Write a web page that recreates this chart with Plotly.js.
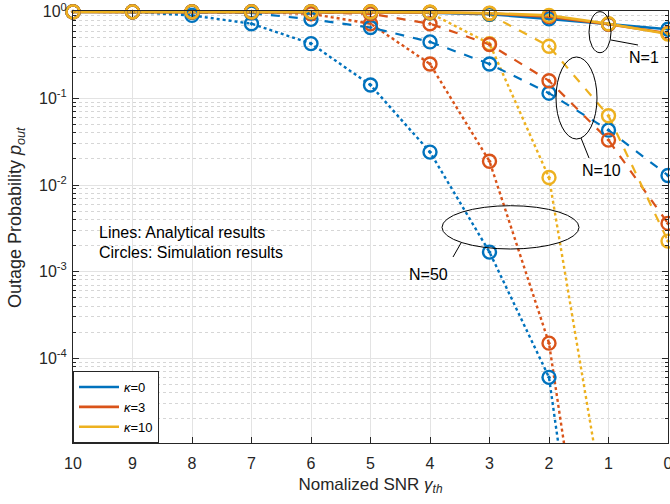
<!DOCTYPE html>
<html>
<head>
<meta charset="utf-8">
<script src="https://cdn.plot.ly/plotly-3.0.1.min.js"></script>
<style>html,body{margin:0;padding:0;background:#fff;}#chart{width:670px;height:504px;}</style>
</head>
<body>
<div id="chart"></div>
<script>
// Normalized SNR (x axis)
const snr = [10, 9, 8, 7, 6, 5, 4, 3, 2, 1, 0];
const kappaLabels = ["0", "3", "10"];
const colors = ["#0072BD", "#D95319", "#EDB120"];

// Analytical outage probability, N = 1
const n1_k0  = [1, 1, 1, 1, 0.998, 0.99, 0.975, 0.94, 0.83, 0.72, 0.63];
const n1_k3  = [1, 1, 1, 1, 1, 0.995, 0.985, 0.96, 0.88, 0.72, 0.565];
const n1_k10 = [1, 1, 1, 1, 1, 0.997, 0.99, 0.965, 0.91, 0.73, 0.555];
// N = 10
const n10_k0  = [1, 1, 0.99, 0.97, 0.82, 0.66, 0.45, 0.25, 0.115, 0.043, 0.0129];
const n10_k3  = [1, 1, 1, 1, 0.99, 0.95, 0.73, 0.42, 0.16, 0.033, 0.0036];
const n10_k10 = [1, 1, 1, 1, 1, 1, 0.99, 0.93, 0.40, 0.063, 0.00225];
// N = 50
const n50_k0  = [1, 1, 0.91, 0.73, 0.43, 0.143, 0.024, 0.00168, 6.0e-5, 2e-9, 1e-14];
const n50_k3  = [1, 1, 1, 0.99, 0.95, 0.73, 0.25, 0.0188, 1.49e-4, 1e-8, 1e-13];
const n50_k10 = [1, 1, 1, 1, 1, 0.99, 0.97, 0.43, 0.0122, 1e-6, 1e-11];

// Simulation results (null = no outage event observed)
const sim_n50_k0  = [1, 1, 0.91, 0.73, 0.43, 0.143, 0.024, 0.00168, 6.0e-5, null, null];
const sim_n50_k3  = [1, 1, 1, 0.99, 0.95, 0.73, 0.25, 0.0188, 1.49e-4, null, null];
const sim_n50_k10 = [1, 1, 1, 1, 1, 0.99, 0.97, 0.43, 0.0122, null, null];

const yTickVals = [1e-4, 1e-3, 1e-2, 1e-1, 1];
const yTickText = ["10<sup>-4</sup>", "10<sup>-3</sup>", "10<sup>-2</sup>", "10<sup>-1</sup>", "10<sup>0</sup>"];
const xTickVals = [10, 9, 8, 7, 6, 5, 4, 3, 2, 1, 0];

const groups = [
  {vals: [n1_k0, n1_k3, n1_k10], sim: [n1_k0, n1_k3, n1_k10], dash: "solid", width: 2.6, legend: true},
  {vals: [n10_k0, n10_k3, n10_k10], sim: [n10_k0, n10_k3, n10_k10], dash: "dash", width: 2.2, legend: false},
  {vals: [n50_k0, n50_k3, n50_k10], sim: [sim_n50_k0, sim_n50_k3, sim_n50_k10], dash: "dot", width: 2.4, legend: false}
];

const traces = [];
[2, 1, 0].forEach(gi => {
  const g = groups[gi];
  for (let k = 0; k < 3; k++) {
    traces.push({
      x: snr, y: g.vals[k], type: "scatter", mode: "lines",
      line: {color: colors[k], width: g.width, dash: g.dash},
      name: "<i>κ</i>=" + kappaLabels[k],
      showlegend: g.legend, legendrank: k + 1,
      hoverinfo: "skip"
    });
  }
});
[2, 1, 0].forEach(gi => {
  const g = groups[gi];
  for (let k = 0; k < 3; k++) {
    traces.push({
      x: snr, y: g.sim[k], type: "scatter", mode: "markers",
      marker: {symbol: "circle-open-dot", size: 13, color: colors[k], line: {width: 2.4, color: colors[k]}},
      showlegend: false, cliponaxis: false, hoverinfo: "skip"
    });
  }
});

const FAM = "Liberation Sans, Arial, Helvetica, sans-serif";
// annotation helpers: pixel position relative to the plot area -> paper fraction
const PX = px => (px - 73) / 595;
const PY = py => (443 - py) / 432;

const black = {color: "#000", width: 1};
const shapes = [
  {type: "circle", xref: "paper", yref: "paper", x0: PX(589), x1: PX(611), y0: PY(11.7), y1: PY(52.7), line: black},
  {type: "line", xref: "paper", yref: "paper", x0: PX(611), x1: PX(638), y0: PY(40), y1: PY(45), line: black},
  {type: "circle", xref: "paper", yref: "paper", x0: PX(556), x1: PX(597), y0: PY(57), y1: PY(139), line: black},
  {type: "line", xref: "paper", yref: "paper", x0: PX(581), x1: PX(589), y0: PY(138), y1: PY(158), line: black},
  {type: "circle", xref: "paper", yref: "paper", x0: PX(442), x1: PX(579), y0: PY(205.7), y1: PY(249), line: black},
  {type: "line", xref: "paper", yref: "paper", x0: PX(461), x1: PX(453), y0: PY(243), y1: PY(257), line: black}
];

const annFont = {family: FAM, size: 16, color: "#000"};
const ann = (px, py, text, xanchor) => ({xref: "paper", yref: "paper", x: PX(px), y: PY(py), text: text,
  showarrow: false, xanchor: xanchor || "center", yanchor: "middle", font: annFont});
const annotations = [
  ann(644, 57, "N=1"),
  ann(601, 170, "N=10"),
  ann(428, 274, "N=50"),
  ann(97, 232, "Lines: Analytical results", "left"),
  ann(97, 253, "Circles: Simulation results", "left"),
  {xref: "paper", yref: "paper", x: PX(17), y: PY(218), xanchor: "center", yanchor: "middle", textangle: -90,
   text: "Outage Probability <i>p</i><sub><i>out</i></sub>", showarrow: false, font: {family: FAM, size: 18, color: "#262626"}}
];

const layout = {
  width: 670, height: 504,
  margin: {l: 73, r: 2, t: 11, b: 61},
  paper_bgcolor: "#fff", plot_bgcolor: "#fff",
  font: {family: FAM, size: 16, color: "#262626"},
  showlegend: true,
  legend: {x: 0, y: 0, xanchor: "left", yanchor: "bottom", bgcolor: "#fff", bordercolor: "#262626", borderwidth: 1,
           font: {family: FAM, size: 13, color: "#000"}, tracegroupgap: 0, itemwidth: 40},
  xaxis: {
    range: [10, 0], tickvals: xTickVals, ticktext: xTickVals.map(String),
    ticks: "inside", ticklen: 6, tickcolor: "#262626", mirror: "ticks",
    showline: true, linecolor: "#262626", linewidth: 1,
    showgrid: true, gridcolor: "#e3e3e3", gridwidth: 1, zeroline: false,
    tickfont: {family: FAM, size: 16, color: "#262626"}, ticklabelstandoff: 6, ticklabeloverflow: "allow",
    title: {text: "Nomalized SNR <i>γ</i><sub><i>th</i></sub>", font: {family: FAM, size: 17, color: "#262626"}, standoff: 6}
  },
  yaxis: {
    type: "log", range: [-4.98, 0.01],
    tickvals: yTickVals, ticktext: yTickText,
    ticks: "inside", ticklen: 6, tickcolor: "#262626", mirror: "ticks",
    showline: true, linecolor: "#262626", linewidth: 1,
    showgrid: true, gridcolor: "#e3e3e3", gridwidth: 1, zeroline: false,
    tickfont: {family: FAM, size: 16, color: "#262626"}, ticklabelstandoff: 2, ticklabeloverflow: "allow",
    minor: {dtick: "D1", showgrid: true, gridcolor: "#d6d6d6", griddash: "dot", gridwidth: 1, ticks: "inside", ticklen: 3, tickcolor: "#262626"}
  },
  shapes: shapes,
  annotations: annotations
};

Plotly.newPlot("chart", traces, layout, {staticPlot: true, displayModeBar: false});
</script>
</body>
</html>
